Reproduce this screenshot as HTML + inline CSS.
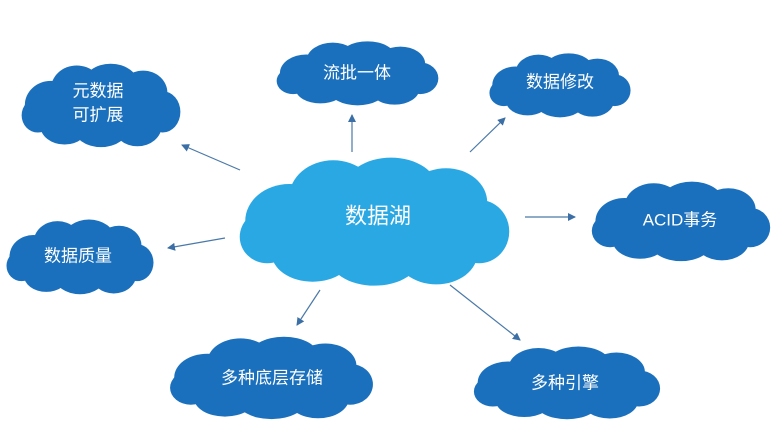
<!DOCTYPE html>
<html><head><meta charset="utf-8"><style>
html,body{margin:0;padding:0;background:#fff;}
svg{display:block;}
text{font-family:"Liberation Sans","Noto Sans CJK SC",sans-serif;fill:#fff;text-anchor:middle;dominant-baseline:central;}
</style></head><body>
<svg width="784" height="447" viewBox="0 0 784 447" xmlns="http://www.w3.org/2000/svg">
<defs>
<symbol id="cl" viewBox="0 0 200 100" preserveAspectRatio="none">
<g>
<ellipse cx="38" cy="50" rx="32" ry="28"/>
<ellipse cx="70" cy="32" rx="32" ry="28"/>
<ellipse cx="112" cy="26" rx="34" ry="24"/>
<ellipse cx="152" cy="36" rx="30" ry="26"/>
<ellipse cx="176" cy="58" rx="22" ry="24"/>
<ellipse cx="145" cy="74" rx="30" ry="24"/>
<ellipse cx="100" cy="76" rx="34" ry="23"/>
<ellipse cx="55" cy="74" rx="30" ry="22"/>
<ellipse cx="22" cy="62" rx="20" ry="20"/>
<rect x="30" y="30" width="140" height="50"/>
</g>
</symbol>
<marker id="ah" markerWidth="8" markerHeight="8" refX="7" refY="4" orient="auto" markerUnits="userSpaceOnUse">
<path d="M0,0 L8,4 L0,8 Z" fill="#3b6fa5"/>
</marker>
</defs>
<g stroke="#4a79a8" stroke-width="1.2" marker-end="url(#ah)">
<line x1="240" y1="170" x2="182" y2="145"/>
<line x1="352" y1="152" x2="352" y2="115"/>
<line x1="470" y1="152" x2="505" y2="118"/>
<line x1="525" y1="217" x2="575" y2="217"/>
<line x1="225" y1="238" x2="168" y2="248"/>
<line x1="320" y1="290" x2="297" y2="325"/>
<line x1="450" y1="285" x2="520" y2="340"/>
</g>
<g fill="#1a70bd">
<use href="#cl" x="20" y="62" width="162" height="86"/>
<use href="#cl" x="275" y="40" width="165" height="66"/>
<use href="#cl" x="488" y="52" width="144" height="66"/>
<use href="#cl" x="590" y="180" width="182" height="82"/>
<use href="#cl" x="5" y="218" width="150" height="77"/>
<use href="#cl" x="168" y="335" width="207" height="85"/>
<use href="#cl" x="472" y="345" width="190" height="75"/>
</g>
<g fill="#2aa8e4">
<use href="#cl" x="237" y="155" width="275" height="132"/>
</g>
<text x="98" y="91" font-size="17">元数据</text>
<text x="98" y="115" font-size="17">可扩展</text>
<text x="357" y="73" font-size="17">流批一体</text>
<text x="560" y="82" font-size="17">数据修改</text>
<text x="680" y="220" font-size="17">ACID事务</text>
<text x="78" y="256" font-size="17">数据质量</text>
<text x="272" y="378" font-size="17">多种底层存储</text>
<text x="565" y="383" font-size="17">多种引擎</text>
<text x="378" y="216" font-size="22">数据湖</text>
</svg>
</body></html>
